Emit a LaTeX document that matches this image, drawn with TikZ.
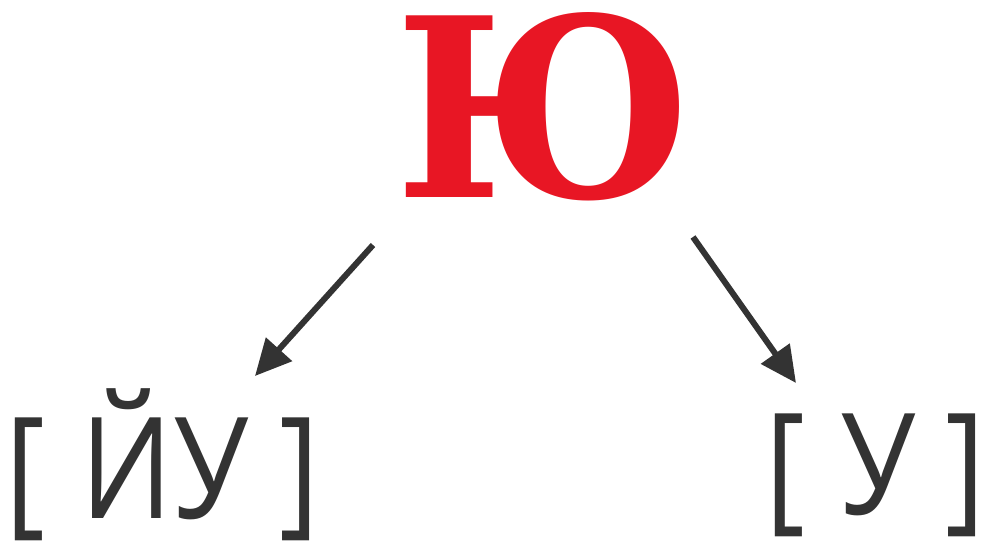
\documentclass[tikz,border=0pt]{standalone}
\usepackage{fontspec}
\usepackage{graphicx}
\setmainfont{Open Sans}
\newfontfamily\yufont{DejaVu Serif}
\usetikzlibrary{arrows.meta}
\definecolor{yured}{RGB}{232,22,36}
\definecolor{ink}{RGB}{51,51,51}
\tikzset{
  arr/.style={draw=ink, line width=6pt, -{Triangle[length=36pt,width=34pt]}},
  sound/.style={anchor=base west, inner sep=0pt, text=ink, font=\fontsize{141}{150}\selectfont},
  bigletter/.style={anchor=north west, inner sep=0pt}
}
\newcommand{\yuglyph}{\resizebox{297pt}{185pt}{\yufont\bfseries Ю}}
\newcommand{\narrow}[1]{\scalebox{0.86}[1]{#1}}
\begin{document}
\begin{tikzpicture}[x=1pt,y=-1pt]
\useasboundingbox[fill=white] (0,0) rectangle (986,550);
\node[bigletter, text=yured] (yu) at (395,12) {\yuglyph};
\node[sound] (left) at (5,518) {\narrow{[\hspace{5pt} ЙУ\hspace{0pt} ]}};
\node[sound] (right) at (765,514) {\narrow{[\hspace{5pt} У\hspace{-2pt} ]}};
\coordinate (a1s) at (373,245);
\coordinate (a1e) at (255,376);
\coordinate (a2s) at (693,237);
\coordinate (a2e) at (796,383);
\draw[arr] (a1s) -- (a1e);
\draw[arr] (a2s) -- (a2e);
\end{tikzpicture}
\end{document}
